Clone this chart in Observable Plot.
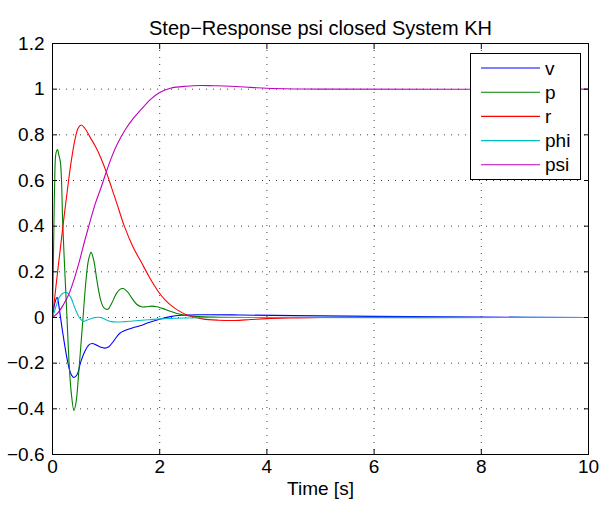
<!DOCTYPE html>
<html>
<head>
<meta charset="utf-8">
<script src="https://cdn.jsdelivr.net/npm/d3@7"></script>
<script src="https://cdn.jsdelivr.net/npm/@observablehq/plot@0.6"></script>
<style>
  html, body { margin: 0; padding: 0; background: #fff; }
  #wrap { position: relative; width: 603px; height: 507px; }
  #legend { position: absolute; left: 0; top: 0; pointer-events: none; }
</style>
</head>
<body>
<div id="wrap"></div>
<script>
// ---- data ----
const title = "Step\u2212Response psi closed System KH";
const xLabel = "Time [s]";
const seriesNames = ["v", "p", "r", "phi", "psi"];
const seriesColors = ["#0000ff", "#008000", "#ff0000", "#00bfbf", "#bf00bf"];
const xTicks = [0, 2, 4, 6, 8, 10];
const yTicks = [-0.6, -0.4, -0.2, 0, 0.2, 0.4, 0.6, 0.8, 1, 1.2];

const vT = [0, 0.04, 0.087, 0.12, 0.15, 0.2, 0.28, 0.34, 0.4, 0.46, 0.52, 0.6, 0.68, 0.74, 0.82, 0.9, 0.97, 1.05, 1.15, 1.25, 1.35, 1.5, 1.65, 1.8, 2.0, 2.2, 2.4, 2.8, 3.5, 4.5, 6, 8, 10];
const vY = [0, 0.06, 0.088, 0.05, 0.0, -0.08, -0.19, -0.245, -0.263, -0.25, -0.2, -0.15, -0.12, -0.114, -0.121, -0.13, -0.134, -0.128, -0.1, -0.07, -0.057, -0.045, -0.035, -0.022, -0.008, 0.004, 0.01, 0.012, 0.011, 0.008, 0.005, 0.002, 0];

const pT = [0, 0.02, 0.04, 0.065, 0.095, 0.12, 0.145, 0.165, 0.19, 0.23, 0.27, 0.31, 0.35, 0.4, 0.44, 0.49, 0.53, 0.57, 0.62, 0.67, 0.72, 0.77, 0.83, 0.9, 0.96, 1.03, 1.1, 1.18, 1.25, 1.32, 1.4, 1.48, 1.57, 1.66, 1.75, 1.85, 1.95, 2.05, 2.2, 2.4, 2.6, 3, 4, 10];
const pY = [0, 0.3, 0.58, 0.72, 0.735, 0.71, 0.685, 0.62, 0.42, 0.2, 0.0, -0.2, -0.33, -0.408, -0.37, -0.24, -0.12, 0.0, 0.15, 0.25, 0.285, 0.25, 0.16, 0.075, 0.042, 0.036, 0.06, 0.1, 0.122, 0.127, 0.112, 0.085, 0.058, 0.047, 0.047, 0.05, 0.047, 0.04, 0.027, 0.013, 0.006, 0.002, 0, 0];

const rT = [0, 0.1, 0.2, 0.3, 0.36, 0.42, 0.48, 0.535, 0.6, 0.7, 0.8, 0.9, 1.0, 1.1, 1.2, 1.34, 1.5, 1.65, 1.8, 1.9, 2.0, 2.1, 2.2, 2.35, 2.5, 2.8, 3.1, 3.4, 3.7, 4.0, 4.5, 5, 6, 10];
const rY = [0, 0.21, 0.41, 0.6, 0.7, 0.78, 0.83, 0.843, 0.83, 0.79, 0.75, 0.7, 0.64, 0.57, 0.5, 0.4, 0.31, 0.245, 0.18, 0.14, 0.105, 0.077, 0.055, 0.03, 0.012, -0.006, -0.012, -0.013, -0.009, -0.005, -0.002, 0, 0, 0];

const phiT = [0, 0.06, 0.12, 0.18, 0.26, 0.34, 0.42, 0.5, 0.58, 0.68, 0.8, 0.9, 1.0, 1.1, 1.2, 1.35, 1.5, 1.8, 2.0, 2.5, 3, 10];
const phiY = [0, 0.045, 0.085, 0.104, 0.11, 0.088, 0.04, 0.0, -0.017, -0.008, 0.0, 0.0, -0.01, -0.018, -0.02, -0.018, -0.015, -0.01, -0.006, -0.002, 0, 0];

const psiT = [0, 0.1, 0.2, 0.3, 0.4, 0.5, 0.6, 0.7, 0.8, 0.9, 1.0, 1.1, 1.2, 1.35, 1.5, 1.65, 1.83, 2.0, 2.2, 2.5, 2.76, 3.0, 3.32, 3.7, 4.0, 4.5, 5, 10];
const psiY = [0, 0.02, 0.055, 0.1, 0.165, 0.245, 0.335, 0.42, 0.5, 0.565, 0.635, 0.7, 0.755, 0.82, 0.87, 0.91, 0.955, 0.985, 1.004, 1.013, 1.016, 1.015, 1.013, 1.008, 1.004, 1.001, 1.0, 1.0];

// ---- build table ----
const seriesT = [vT, pT, rT, phiT, psiT];
const seriesY = [vY, pY, rY, phiY, psiY];
const rows = [];
seriesNames.forEach((name, k) => {
  seriesT[k].forEach((t, i) => rows.push({t, value: seriesY[k][i], series: name}));
});

const W = 603, H = 507;
const mL = 52, mR = 15, mT = 43, mB = 53;
const FS = 19;
const FONT = "'Liberation Sans', Arial, Helvetica, sans-serif";
const innerX = xTicks.slice(1, -1);
const innerY = yTicks.slice(1, -1);

const chart = Plot.plot({
  width: W, height: H,
  marginLeft: mL, marginRight: mR, marginTop: mT, marginBottom: mB,
  style: {fontFamily: FONT, fontSize: FS + "px", background: "#fff", color: "#000", overflow: "visible"},
  x: {domain: [0, 10], axis: null},
  y: {domain: [-0.6, 1.2], axis: null},
  color: {domain: seriesNames, range: seriesColors},
  marks: [
    Plot.gridX(innerX, {stroke: "#000", strokeOpacity: 0.75, strokeDasharray: "1,6"}),
    Plot.gridY(innerY, {stroke: "#000", strokeOpacity: 0.75, strokeDasharray: "1,6"}),
    Plot.line(rows, {x: "t", y: "value", z: "series", stroke: "series", strokeWidth: 1.1, curve: "catmull-rom"}),
    Plot.frame({stroke: "#000", strokeWidth: 1}),
    // labels
    Plot.axisX(xTicks, {anchor: "bottom", tickSize: 0, tickPadding: 5, fontSize: FS, label: null, tickFormat: d3.format("")}),
    Plot.axisY(yTicks, {anchor: "left", tickSize: 0, tickPadding: 8, fontSize: FS, label: null, tickFormat: d3.format("")}),
    // inward ticks on all four sides
    Plot.axisX(xTicks, {anchor: "bottom", tickSize: -5, tickFormat: () => "", label: null}),
    Plot.axisX(xTicks, {anchor: "top", tickSize: -5, tickFormat: () => "", label: null}),
    Plot.axisY(yTicks, {anchor: "left", tickSize: -5, tickFormat: () => "", label: null}),
    Plot.axisY(yTicks, {anchor: "right", tickSize: -5, tickFormat: () => "", label: null}),
    // title and x label
    Plot.text([title], {frameAnchor: "top", dy: -23, fontSize: 20, text: d => d}),
    Plot.text([xLabel], {frameAnchor: "bottom", dy: 40, fontSize: FS, text: d => d})
  ]
});
const wrap = document.getElementById("wrap");
wrap.appendChild(chart);

// ---- legend (inside the axes, top right), drawn as an SVG overlay ----
const lg = d3.select(wrap).append("svg")
  .attr("id", "legend")
  .attr("width", W).attr("height", H)
  .style("font-family", FONT).style("font-size", FS + "px");
const bx = 470.5, by = 53.5, bw = 110, bh = 126;
lg.append("rect").attr("x", bx).attr("y", by).attr("width", bw).attr("height", bh)
  .attr("fill", "#fff").attr("stroke", "#000").attr("stroke-width", 1);
const rowsG = lg.selectAll("g.row").data(seriesNames).join("g")
  .attr("transform", (d, k) => `translate(0, ${by + 14.5 + k * 24.2})`);
rowsG.append("line")
  .attr("x1", 481).attr("x2", 540).attr("y1", 0).attr("y2", 0)
  .attr("stroke", (d, k) => seriesColors[k]).attr("stroke-width", 1.1);
rowsG.append("text")
  .attr("x", 545).attr("y", 0).attr("dy", "0.35em")
  .attr("fill", "#000")
  .text(d => d);
</script>
</body>
</html>
